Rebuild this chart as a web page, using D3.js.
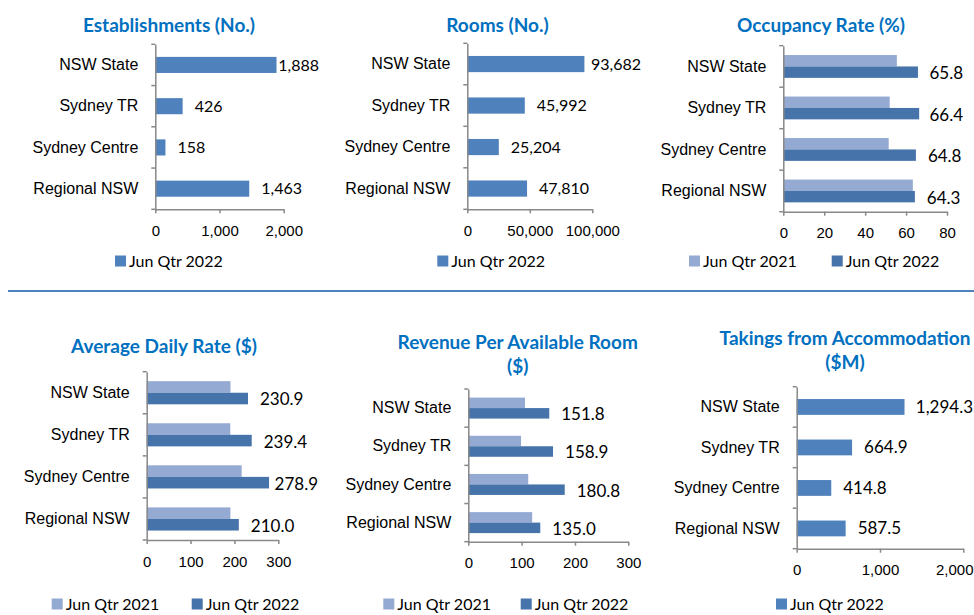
<!DOCTYPE html>
<html>
<head>
<meta charset="utf-8">
<script src="https://cdn.jsdelivr.net/npm/d3@7"></script>
<style>
  body { margin: 0; background: #fff; }
  svg { display: block; font-family: Lato, "Open Sans", sans-serif; }
</style>
</head>
<body>
<svg class="main" width="974" height="615"></svg>
<script>
const categories = ["NSW State", "Sydney TR", "Sydney Centre", "Regional NSW"];
const seriesNames = ["Jun Qtr 2021", "Jun Qtr 2022"];

const establishments2022 = [1888, 426, 158, 1463];
const rooms2022 = [93682, 45992, 25204, 47810];
const occupancy2021 = [55.5, 52.0, 51.5, 63.3];
const occupancy2022 = [65.8, 66.4, 64.8, 64.3];
const adr2021 = [191.0, 190.5, 216.5, 190.8];
const adr2022 = [230.9, 239.4, 278.9, 210.0];
const revpar2021 = [106.3, 98.9, 112.4, 119.8];
const revpar2022 = [151.8, 158.9, 180.8, 135.0];
const takings2022 = [1294.3, 664.9, 414.8, 587.5];

const establishmentTicks = [0, 1000, 2000];
const roomTicks = [0, 50000, 100000];
const occupancyTicks = [0, 20, 40, 60, 80];
const adrTicks = [0, 100, 200, 300];
const revparTicks = [0, 100, 200, 300];
const takingsTicks = [0, 1000, 2000];

const colors = { single: "#4f81bd", light: "#95aad2", dark: "#4673a9", title: "#0070c0", axis: "#888" };

const main = d3.select(".main");
const pageWidth = 974;

function drawPanel(p) {
  const g = main.append("g");
  const x = d3.scaleLinear().domain(d3.extent(p.ticks)).range(p.xRange);
  const y = d3.scaleBand().domain(categories).range(p.yRange);

  // title, one or two lines
  p.title.forEach((line, i) => {
    g.append("text")
      .attr("x", p.titleX)
      .attr("y", p.titleY + i * 24)
      .attr("text-anchor", "middle")
      .attr("font-weight", "bold")
      .attr("font-size", 19)
      .attr("fill", colors.title)
      .text(line);
  });

  // bars
  const twoSeries = p.series.length > 1;
  const groupH = y.bandwidth() * (twoSeries ? 0.55 : 0.39);
  const barH = groupH / p.series.length;
  p.series.forEach((s, si) => {
    g.selectAll(null)
      .data(s.values)
      .join("rect")
      .attr("x", x(0))
      .attr("y", (d, i) => y(categories[i]) + (y.bandwidth() - groupH) / 2 + si * barH)
      .attr("width", d => x(d) - x(0))
      .attr("height", barH)
      .attr("fill", s.color);
  });

  // value labels, on the last series
  const last = p.series[p.series.length - 1];
  const fmt = d3.format(p.format);
  g.selectAll(null)
    .data(last.values)
    .join("text")
    .attr("font-size", p.labelSize)
    .attr("dy", "0.35em")
    .attr("y", (d, i) => y(categories[i]) + (y.bandwidth() - groupH) / 2 + (p.series.length - 0.5) * barH + (twoSeries ? 1 : 0))
    .text(d => fmt(d))
    .attr("x", function(d) {
      const w = this.getComputedTextLength();
      return Math.min(x(d) + 12, p.labelRight - w, pageWidth - 1 - w);
    });

  // category axis
  const yAxis = g.append("g")
    .attr("transform", `translate(${x(0)},0)`)
    .call(d3.axisLeft(y).tickSize(0).tickPadding(17));
  yAxis.select(".domain").attr("stroke", colors.axis).attr("stroke-width", 1.5);
  yAxis.selectAll("text").attr("font-size", 16).attr("fill", "#000");
  yAxis.selectAll(null)
    .data(categories.map(c => y(c)).concat([y.range()[1]]))
    .join("line")
    .attr("x1", -4)
    .attr("x2", 0)
    .attr("y1", d => d)
    .attr("y2", d => d)
    .attr("stroke", colors.axis)
    .attr("stroke-width", 1.5);

  // value axis
  const xAxis = g.append("g")
    .attr("transform", `translate(0,${y.range()[1]})`)
    .call(d3.axisBottom(x).tickValues(p.ticks).tickSize(4).tickSizeOuter(0).tickPadding(12).tickFormat(d3.format(",")));
  xAxis.select(".domain").attr("stroke", colors.axis).attr("stroke-width", 1.5);
  xAxis.selectAll(".tick line").attr("stroke", colors.axis).attr("stroke-width", 1.5);
  xAxis.selectAll("text")
    .attr("font-size", 15)
    .attr("fill", "#000")
    .each(function(d) {
      // keep the last tick label inside the page
      const half = this.getComputedTextLength() / 2;
      const over = x(d) + half - (pageWidth - 1);
      if (over > 0) d3.select(this).attr("x", -over);
    });

  // legend
  p.series.forEach((s, si) => {
    const lx = p.legend[si];
    g.append("rect")
      .attr("x", lx)
      .attr("y", p.legendY - 5.5)
      .attr("width", 11)
      .attr("height", 11)
      .attr("fill", s.color);
    g.append("text")
      .attr("x", lx + 14)
      .attr("y", p.legendY)
      .attr("dy", "0.35em")
      .attr("font-size", 16)
      .text(s.name);
  });
}

const panels = [
  {
    title: ["Establishments (No.)"], titleX: 169, titleY: 32,
    series: [{ name: seriesNames[1], values: establishments2022, color: colors.single }],
    ticks: establishmentTicks, xRange: [155.3, 283.7], yRange: [44.3, 209.3],
    format: ",.0f", labelSize: 16, labelRight: 319, legend: [115], legendY: 261
  },
  {
    title: ["Rooms (No.)"], titleX: 497.5, titleY: 32,
    series: [{ name: seriesNames[1], values: rooms2022, color: colors.single }],
    ticks: roomTicks, xRange: [467.3, 592.3], yRange: [43.3, 209.3],
    format: ",.0f", labelSize: 16, labelRight: 641, legend: [437.3], legendY: 261
  },
  {
    title: ["Occupancy Rate (%)"], titleX: 821, titleY: 32,
    series: [
      { name: seriesNames[0], values: occupancy2021, color: colors.light },
      { name: seriesNames[1], values: occupancy2022, color: colors.dark }
    ],
    ticks: occupancyTicks, xRange: [783.3, 947], yRange: [45.7, 211.7],
    format: ".1f", labelSize: 17, labelRight: 963, legend: [689, 831.7], legendY: 261
  },
  {
    title: ["Average Daily Rate ($)"], titleX: 164, titleY: 353,
    series: [
      { name: seriesNames[0], values: adr2021, color: colors.light },
      { name: seriesNames[1], values: adr2022, color: colors.dark }
    ],
    ticks: adrTicks, xRange: [146.7, 278.3], yRange: [371.7, 540],
    format: ".1f", labelSize: 17, labelRight: 318, legend: [51.7, 191.7], legendY: 604
  },
  {
    title: ["Revenue Per Available Room", "($)"], titleX: 517.7, titleY: 349,
    series: [
      { name: seriesNames[0], values: revpar2021, color: colors.light },
      { name: seriesNames[1], values: revpar2022, color: colors.dark }
    ],
    ticks: revparTicks, xRange: [468.3, 628.3], yRange: [389, 541.7],
    format: ".1f", labelSize: 17, labelRight: 650, legend: [383.3, 520.7], legendY: 604
  },
  {
    title: ["Takings from Accommodation", "($M)"], titleX: 845, titleY: 344.5,
    series: [{ name: seriesNames[1], values: takings2022, color: colors.single }],
    ticks: takingsTicks, xRange: [796.7, 963.3], yRange: [386.7, 548.7],
    format: ",.1f", labelSize: 17, labelRight: 1100, legend: [776], legendY: 604
  }
];

panels.forEach(drawPanel);

// divider between the two rows
main.append("line")
  .attr("x1", 8)
  .attr("x2", pageWidth)
  .attr("y1", 291)
  .attr("y2", 291)
  .attr("stroke", colors.single)
  .attr("stroke-width", 2);
</script>
</body>
</html>
